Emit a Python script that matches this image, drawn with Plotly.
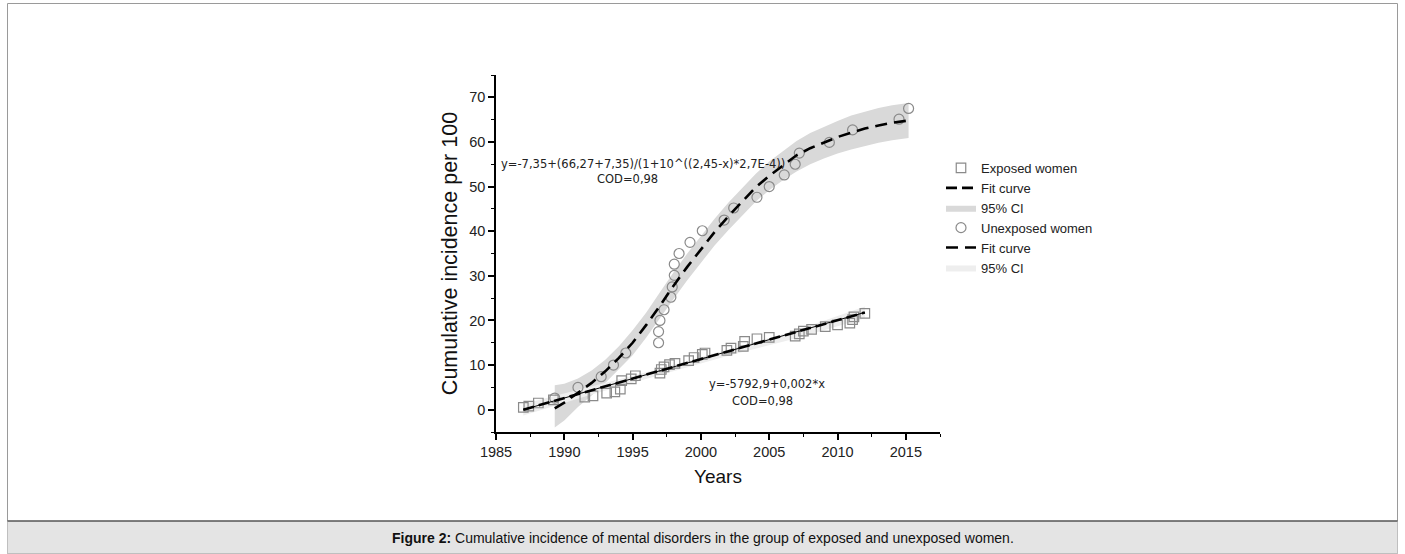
import plotly.graph_objects as go

# ---------------- data ----------------
# Exposed women (open squares)
exp_x = [1987.0, 1987.4, 1988.1, 1989.2, 1991.5, 1992.1, 1993.1, 1993.7, 1994.1, 1994.2,
         1994.9, 1995.2, 1997.0, 1997.1, 1997.3, 1997.7, 1998.1, 1999.1, 1999.5, 2000.1,
         2000.3, 2001.9, 2002.2, 2003.1, 2003.2, 2004.1, 2005.0, 2006.9, 2007.2, 2007.5,
         2008.1, 2009.1, 2010.0, 2010.9, 2011.1, 2011.2, 2012.0]
exp_y = [0.5, 0.8, 1.5, 2.2, 2.8, 3.1, 3.7, 4.0, 4.6, 6.5,
         6.9, 7.6, 8.2, 9.0, 9.6, 10.1, 10.4, 11.0, 11.7, 12.4,
         12.7, 13.3, 13.8, 14.2, 15.3, 15.9, 16.2, 16.5, 17.0, 17.6,
         18.0, 18.6, 19.0, 19.4, 20.2, 20.8, 21.6]

# Unexposed women (open circles)
unexp_x = [1989.3, 1991.0, 1992.7, 1993.6, 1994.5, 1996.9, 1996.9, 1997.0, 1997.3, 1997.8,
           1997.9, 1998.05, 1998.05, 1998.4, 1999.2, 2000.1, 2001.7, 2002.4, 2004.1, 2005.0,
           2006.1, 2006.9, 2007.2, 2009.4, 2011.1, 2014.5, 2015.2]
unexp_y = [2.6, 5.0, 7.4, 10.0, 12.7, 15.0, 17.5, 20.0, 22.4, 25.2,
           27.5, 30.1, 32.6, 35.0, 37.5, 40.1, 42.5, 45.2, 47.6, 50.0,
           52.6, 55.0, 57.5, 59.9, 62.7, 65.1, 67.5]

# Linear fit (exposed) and its 95% CI
lin_fit_x = [1987.0, 2012.0]
lin_fit_y = [0.0, 21.8]
lin_ci_x = [1987.0, 1992.0, 1997.0, 2002.0, 2007.0, 2012.0]
lin_ci_up = [1.3, 5.2, 9.2, 13.5, 17.8, 23.1]
lin_ci_lo = [-1.3, 3.4, 7.8, 12.1, 16.0, 20.5]

# Sigmoid fit (unexposed) and its 95% CI
sig_x = [1989.3, 1990, 1991, 1992, 1993, 1994, 1995, 1996, 1997, 1998, 1999, 2000, 2001, 2002,
         2003, 2004, 2005, 2006, 2007, 2008, 2009, 2010, 2011, 2012, 2013, 2014, 2015.2]
sig_fit = [0.3, 1.6, 3.8, 6.0, 8.6, 11.6, 15.0, 19.0, 23.3, 27.8, 32.0, 36.0, 39.8, 43.3,
           46.6, 49.8, 52.4, 54.8, 57.0, 58.6, 59.9, 61.1, 62.1, 63.0, 63.7, 64.3, 64.8]
sig_up = [5.5, 5.8, 7.0, 8.8, 11.2, 14.2, 17.8, 21.8, 26.3, 30.8, 35.0, 39.0, 42.8, 46.4,
          49.6, 52.8, 55.6, 58.0, 60.2, 62.0, 63.4, 64.7, 65.9, 66.8, 67.6, 68.2, 68.7]
sig_lo = [-4.0, -2.4, 0.6, 3.2, 6.0, 9.0, 12.2, 16.2, 20.4, 24.8, 29.0, 33.0, 36.8, 40.2,
          43.5, 46.6, 49.2, 51.4, 53.4, 55.0, 56.3, 57.4, 58.3, 59.1, 59.8, 60.4, 60.9]

x_ticks = [1985, 1990, 1995, 2000, 2005, 2010, 2015]
y_ticks = [0, 10, 20, 30, 40, 50, 60, 70]

FONT = "Liberation Sans, Arial, sans-serif"
ANN_FONT = "DejaVu Sans, Liberation Sans, sans-serif"

fig = go.Figure()

# CI bands
fig.add_trace(go.Scatter(
    x=sig_x + sig_x[::-1], y=sig_up + sig_lo[::-1], fill="toself", mode="lines",
    line=dict(width=0), fillcolor="#d9d9d9", name="95% CI", legendrank=3,
    hoverinfo="skip"))
fig.add_trace(go.Scatter(
    x=lin_ci_x + lin_ci_x[::-1], y=lin_ci_up + lin_ci_lo[::-1], fill="toself", mode="lines",
    line=dict(width=0), fillcolor="#eeeeee", name="95% CI", legendrank=6,
    hoverinfo="skip"))

# markers
fig.add_trace(go.Scatter(
    x=exp_x, y=exp_y, mode="markers", name="Exposed women", legendrank=1,
    marker=dict(symbol="square-open", size=9.5, color="#8a8a8a", line=dict(width=1.2))))
fig.add_trace(go.Scatter(
    x=unexp_x, y=unexp_y, mode="markers", name="Unexposed women", legendrank=4,
    marker=dict(symbol="circle-open", size=10, color="#8a8a8a", line=dict(width=1.2))))

# fit lines
fig.add_trace(go.Scatter(
    x=lin_fit_x, y=lin_fit_y, mode="lines", showlegend=False,
    line=dict(color="black", width=1)))
fig.add_trace(go.Scatter(
    x=lin_fit_x, y=lin_fit_y, mode="lines", name="Fit curve", legendrank=2,
    line=dict(color="black", width=2.6, dash="11px,5px")))
fig.add_trace(go.Scatter(
    x=sig_x, y=sig_fit, mode="lines", name="Fit curve", legendrank=5,
    line=dict(color="black", width=2.6, dash="12px,7px")))

ann_font = dict(family=ANN_FONT, size=11.5, color="#222")
fig.add_annotation(x=1985.2, y=55.0, xref="x", yref="y", xanchor="left", yanchor="middle",
                   text="y=-7,35+(66,27+7,35)/(1+10^((2,45-x)*2,7E-4))",
                   showarrow=False, font=ann_font)
fig.add_annotation(x=1994.65, y=51.6, xref="x", yref="y", xanchor="center", yanchor="middle",
                   text="COD=0,98", showarrow=False, font=ann_font)
fig.add_annotation(x=2004.8, y=5.8, xref="x", yref="y", xanchor="center", yanchor="middle",
                   text="y=-5792,9+0,002*x", showarrow=False, font=ann_font)
fig.add_annotation(x=2004.5, y=2.0, xref="x", yref="y", xanchor="center", yanchor="middle",
                   text="COD=0,98", showarrow=False, font=ann_font)

# frame and caption (paper coordinates)
L, R, T, B = 496, 940, 75, 432
def px(v):
    return (v - L) / (R - L)
def py(v):
    return (B - v) / (B - T)

fig.add_shape(type="rect", xref="paper", yref="paper",
              x0=px(7.5), x1=px(1397.5), y0=py(553.5), y1=py(3.5),
              line=dict(color="#9a9a9a", width=1), fillcolor="rgba(0,0,0,0)", layer="below")
fig.add_shape(type="rect", xref="paper", yref="paper",
              x0=px(7.5), x1=px(1397.5), y0=py(553.5), y1=py(521),
              line=dict(width=0), fillcolor="#e4e4e4", layer="below")
fig.add_shape(type="line", xref="paper", yref="paper",
              x0=px(7.5), x1=px(1397.5), y0=py(521), y1=py(521),
              line=dict(color="#555555", width=1.5))
fig.add_annotation(xref="paper", yref="paper", x=px(703), y=py(537.5),
                   xanchor="center", yanchor="middle",
                   text="<b>Figure 2:</b> Cumulative incidence of mental disorders in the group of exposed and unexposed women.",
                   showarrow=False, font=dict(family=FONT, size=14, color="#111"))

fig.update_layout(
    width=1405, height=554,
    margin=dict(l=L, r=1405 - R, t=T, b=554 - B, pad=0),
    paper_bgcolor="white", plot_bgcolor="white",
    font=dict(family=FONT, color="#222"),
    showlegend=True,
    legend=dict(x=px(941), y=py(153), xanchor="left", yanchor="top",
                bgcolor="rgba(0,0,0,0)", font=dict(family=FONT, size=13, color="#222"),
                traceorder="normal", itemwidth=30, tracegroupgap=0),
)
fig.update_xaxes(
    range=[1985, 2017.5], tickvals=x_ticks, ticktext=[str(v) for v in x_ticks],
    showline=True, linecolor="black", linewidth=1.5, showgrid=False, zeroline=False,
    ticks="outside", ticklen=6, tickwidth=1.5, tickcolor="black",
    minor=dict(dtick=2.5, tick0=1985, ticks="outside", ticklen=3, tickcolor="black", tickwidth=1.2),
    tickfont=dict(family=FONT, size=14.5, color="#222"),
    title=dict(text="Years", font=dict(family=FONT, size=19, color="#111"), standoff=11),
)
fig.update_yaxes(
    range=[-5, 75], tickvals=y_ticks, ticktext=[str(v) for v in y_ticks],
    showline=True, linecolor="black", linewidth=1.5, showgrid=False, zeroline=False,
    ticks="outside", ticklen=6, tickwidth=1.5, tickcolor="black",
    minor=dict(dtick=5, tick0=0, ticks="outside", ticklen=3, tickcolor="black", tickwidth=1.2),
    tickfont=dict(family=FONT, size=14.5, color="#222"),
    title=dict(text="Cumulative incidence per 100", font=dict(family=FONT, size=21.5, color="#111"), standoff=6),
)

fig.write_html("out.html", config={"displayModeBar": False},
               post_script="document.body.style.margin='0';document.body.style.overflow='hidden';")
